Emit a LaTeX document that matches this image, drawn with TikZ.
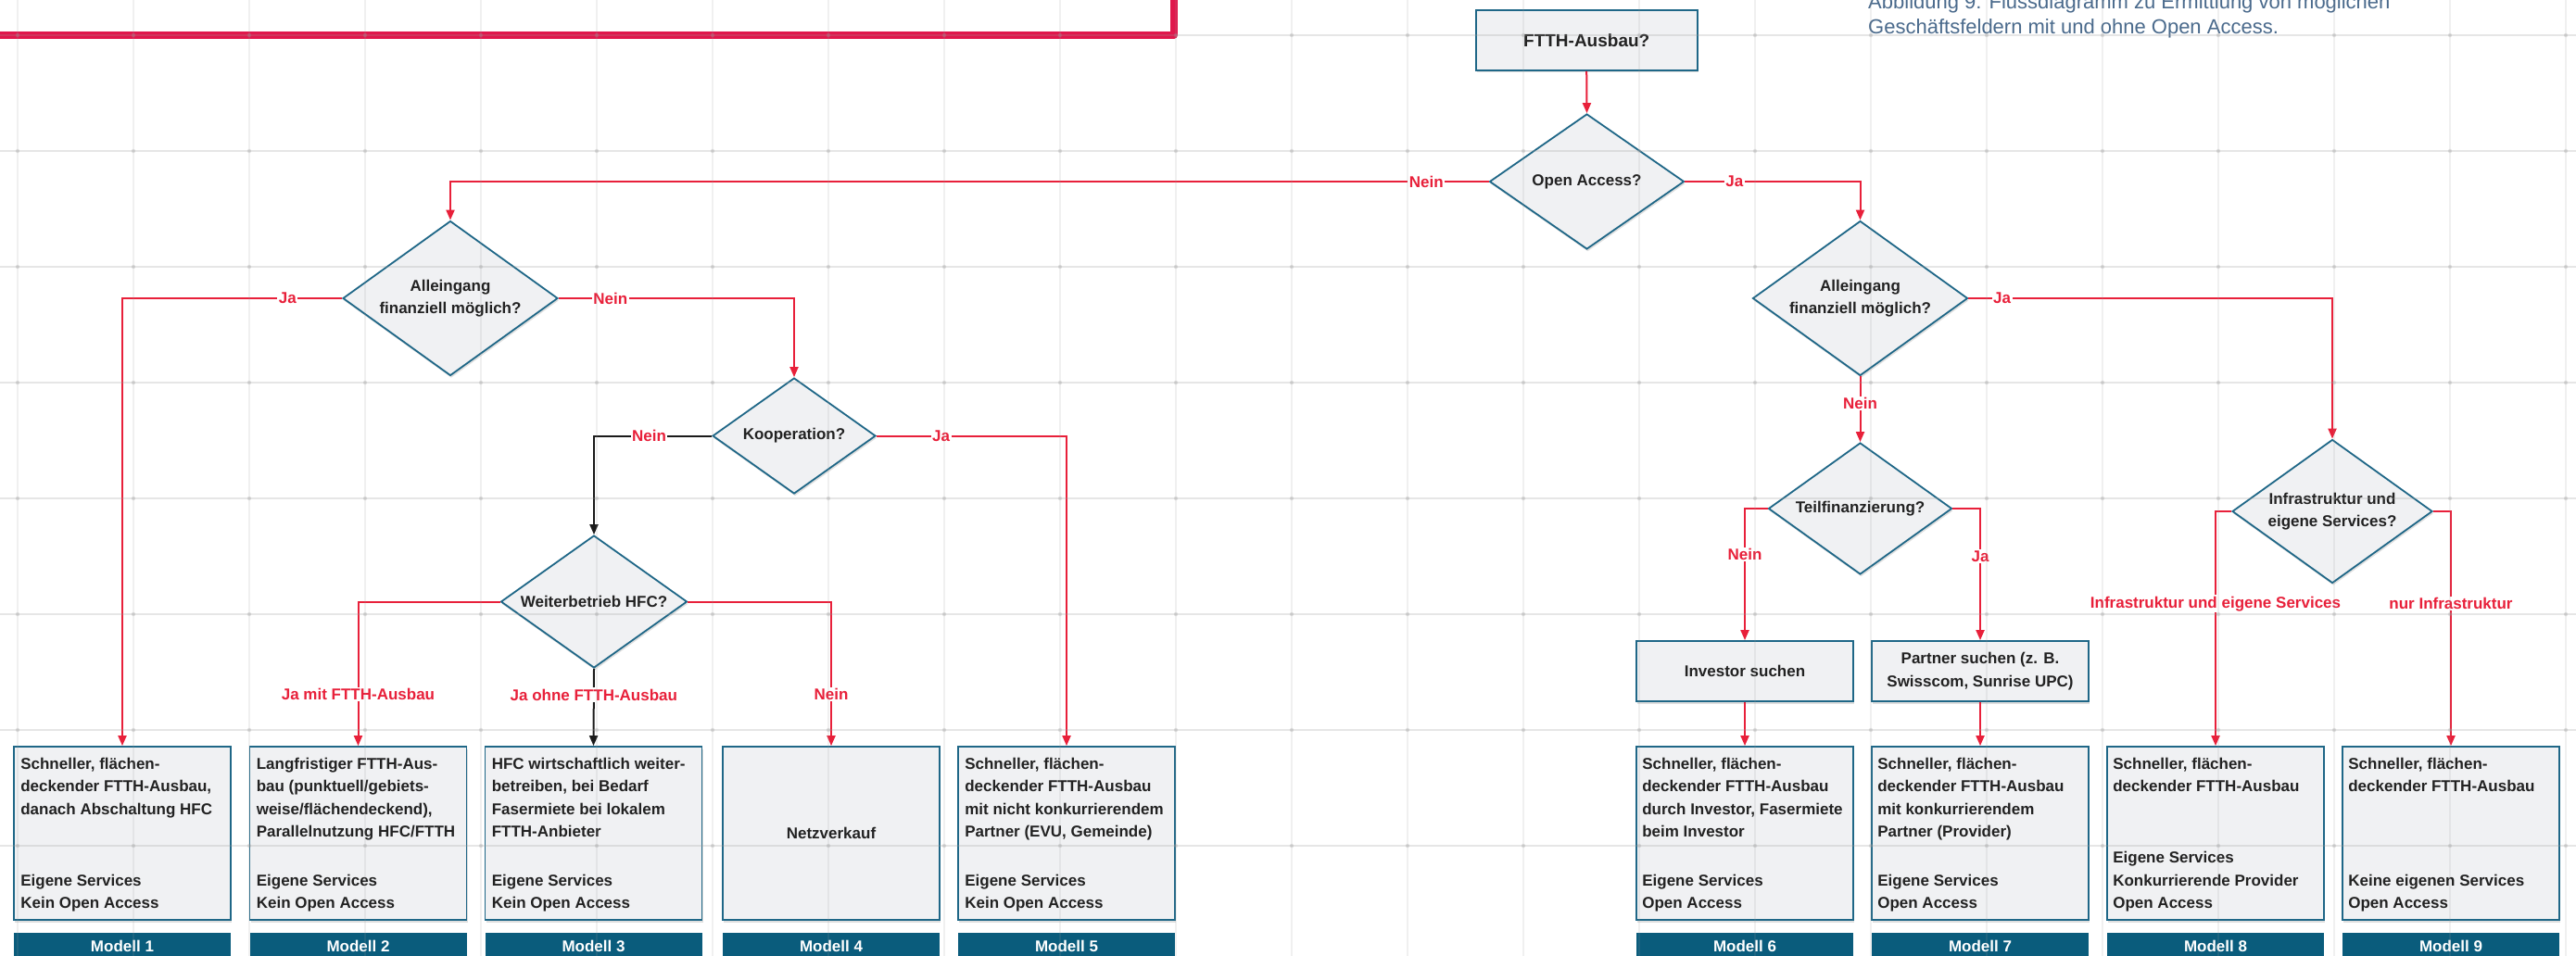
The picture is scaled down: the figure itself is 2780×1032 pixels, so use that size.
\documentclass[tikz,border=0pt]{standalone}
\usepackage{fontspec}
\setmainfont{Liberation Sans}
\usetikzlibrary{shapes.geometric,arrows.meta,shadows}
\definecolor{redl}{HTML}{E8203A}
\definecolor{framec}{HTML}{E0174C}
\definecolor{tealc}{HTML}{1F6787}
\definecolor{boxfill}{HTML}{F0F1F3}
\definecolor{barcol}{HTML}{0A5C7C}
\definecolor{capc}{HTML}{4A6A8C}
\definecolor{txt}{HTML}{222222}
\definecolor{blk}{HTML}{1A1A1A}
\definecolor{gridc}{HTML}{9A9A9A}
\newcommand\topstr{\rule{0pt}{13pt}}
\newcommand\botstr{\rule[-5pt]{0pt}{5pt}}
\tikzset{
  shad/.style={drop shadow={shadow xshift=1pt, shadow yshift=-2.5pt, opacity=0.25}},
  box/.style={rectangle, draw=tealc, fill=boxfill, line width=1.8pt, inner sep=0pt,
    minimum width=234pt, minimum height=187pt, shad, text=txt,
    font=\bfseries\fontsize{17}{24.5}\selectfont},
  smallbox/.style={box, minimum height=65pt, align=center},
  dia/.style={diamond, draw=tealc, fill=boxfill, line width=1.8pt, inner sep=0pt,
    align=center, text=txt, shad, font=\bfseries\fontsize{17}{24.5}\selectfont},
  btxt/.style={inner sep=0pt, align=left, text=txt, font=\bfseries\fontsize{17}{24.5}\selectfont},
  bar/.style={rectangle, fill=barcol, text=white, minimum width=234pt, minimum height=28pt,
    inner sep=0pt, font=\bfseries\fontsize{17}{20}\selectfont},
  lbl/.style={fill=white, text=redl, inner sep=1.5pt, font=\bfseries\fontsize{17}{20}\selectfont},
  conn/.style={draw=redl, line width=2pt, -{Triangle[length=11pt,width=9pt]}},
  connk/.style={draw=blk, line width=2pt, -{Triangle[length=11pt,width=9pt]}},
  captxt/.style={inner sep=0pt, text=capc, font=\fontsize{22}{27}\selectfont},
  gridv/.style={draw=gridc, opacity=0.14, line width=1.3pt},
  gridh/.style={draw=gridc, opacity=0.24, line width=2pt},
  griddot/.style={fill=gridc, opacity=0.28},
}
\begin{document}
\begin{tikzpicture}[x=1pt,y=-1pt]
\useasboundingbox (0,0) rectangle (2780,1032);
\clip (0,0) rectangle (2780,1032);
\fill[white] (0,0) rectangle (2780,1032);

% thick red frame fragment
\draw[framec, line width=8pt, line join=round] (-10,38) -- (1266.5,38) -- (1266.5,-20);

% caption
\node[captxt, anchor=base west] (cap1) at (2016,10) {Abbildung 9: Flussdiagramm zu Ermittlung von möglichen};
\node[captxt, anchor=base west] (cap2) at (2016,37) {Geschäftsfeldern mit und ohne Open Access.};

% decisions
\node[smallbox, minimum width=239pt, font=\bfseries\fontsize{19}{22}\selectfont] (FT) at (1712.2,43.5) {FTTH-Ausbau?};
\node[dia, minimum width=210pt, minimum height=146pt, aspect=1.44] (OA) at (1712.5,196) {Open Access?};
\node[dia, minimum width=232pt, minimum height=167pt, aspect=1.39] (AL) at (486,322) {Alleingang\\finanziell möglich?};
\node[dia, minimum width=232pt, minimum height=167pt, aspect=1.39] (AR) at (2007.5,322) {Alleingang\\finanziell möglich?};
\node[dia, minimum width=176pt, minimum height=125pt, aspect=1.41] (KO) at (857,470.5) {Kooperation?};
\node[dia, minimum width=201pt, minimum height=143pt, aspect=1.41] (WB) at (641,649.5) {Weiterbetrieb HFC?};
\node[dia, minimum width=198pt, minimum height=142pt, aspect=1.39] (TF) at (2007.5,549) {Teilfinanzierung?};
\node[dia, minimum width=216pt, minimum height=155pt, aspect=1.39] (IN) at (2517,552) {Infrastruktur und\\eigene Services?};
\node[smallbox] (IS) at (1883,724.5) {Investor suchen};
\node[smallbox] (PS) at (2137,724.5) {Partner suchen (z. B.\\Swisscom, Sunrise UPC)};

% model boxes
\node[box] (m1) at (132,899.5) {};
\node[box] (m2) at (386.5,899.5) {};
\node[box] (m3) at (640.5,899.5) {};
\node[box] (m4) at (897,899.5) {Netzverkauf};
\node[box] (m5) at (1151,899.5) {};
\node[box] (m6) at (1883,899.5) {};
\node[box] (m7) at (2137,899.5) {};
\node[box] (m8) at (2391,899.5) {};
\node[box] (m9) at (2645,899.5) {};

\node[btxt, anchor=north west] (m1a) at ([xshift=8pt,yshift=-12pt]m1.north west) {\topstr Schneller, flächen-\\deckender FTTH-Ausbau,\\danach Abschaltung HFC};
\node[btxt, anchor=south west] (m1b) at ([xshift=8pt,yshift=8pt]m1.south west) {Eigene Services\\Kein Open Access\botstr};
\node[btxt, anchor=north west] (m2a) at ([xshift=8pt,yshift=-12pt]m2.north west) {\topstr Langfristiger FTTH-Aus-\\bau (punktuell/gebiets-\\weise/flächendeckend),\\Parallelnutzung HFC/FTTH};
\node[btxt, anchor=south west] (m2b) at ([xshift=8pt,yshift=8pt]m2.south west) {Eigene Services\\Kein Open Access\botstr};
\node[btxt, anchor=north west] (m3a) at ([xshift=8pt,yshift=-12pt]m3.north west) {\topstr HFC wirtschaftlich weiter-\\betreiben, bei Bedarf\\Fasermiete bei lokalem\\FTTH-Anbieter};
\node[btxt, anchor=south west] (m3b) at ([xshift=8pt,yshift=8pt]m3.south west) {Eigene Services\\Kein Open Access\botstr};
\node[btxt, anchor=north west] (m5a) at ([xshift=8pt,yshift=-12pt]m5.north west) {\topstr Schneller, flächen-\\deckender FTTH-Ausbau\\mit nicht konkurrierendem\\Partner (EVU, Gemeinde)};
\node[btxt, anchor=south west] (m5b) at ([xshift=8pt,yshift=8pt]m5.south west) {Eigene Services\\Kein Open Access\botstr};
\node[btxt, anchor=north west] (m6a) at ([xshift=7pt,yshift=-12pt]m6.north west) {\topstr Schneller, flächen-\\deckender FTTH-Ausbau\\durch Investor, Fasermiete\\beim Investor};
\node[btxt, anchor=south west] (m6b) at ([xshift=7pt,yshift=8pt]m6.south west) {Eigene Services\\Open Access\botstr};
\node[btxt, anchor=north west] (m7a) at ([xshift=7pt,yshift=-12pt]m7.north west) {\topstr Schneller, flächen-\\deckender FTTH-Ausbau\\mit konkurrierendem\\Partner (Provider)};
\node[btxt, anchor=south west] (m7b) at ([xshift=7pt,yshift=8pt]m7.south west) {Eigene Services\\Open Access\botstr};
\node[btxt, anchor=north west] (m8a) at ([xshift=7pt,yshift=-12pt]m8.north west) {\topstr Schneller, flächen-\\deckender FTTH-Ausbau};
\node[btxt, anchor=south west] (m8b) at ([xshift=7pt,yshift=8pt]m8.south west) {Eigene Services\\Konkurrierende Provider\\Open Access\botstr};
\node[btxt, anchor=north west] (m9a) at ([xshift=7pt,yshift=-12pt]m9.north west) {\topstr Schneller, flächen-\\deckender FTTH-Ausbau};
\node[btxt, anchor=south west] (m9b) at ([xshift=7pt,yshift=8pt]m9.south west) {Keine eigenen Services\\Open Access\botstr};

% model bars
\node[bar] (b1) at (132,1021) {Modell 1};
\node[bar] (b2) at (386.5,1021) {Modell 2};
\node[bar] (b3) at (640.5,1021) {Modell 3};
\node[bar] (b4) at (897,1021) {Modell 4};
\node[bar] (b5) at (1151,1021) {Modell 5};
\node[bar] (b6) at (1883,1021) {Modell 6};
\node[bar] (b7) at (2137,1021) {Modell 7};
\node[bar] (b8) at (2391,1021) {Modell 8};
\node[bar] (b9) at (2645,1021) {Modell 9};

% connectors
\draw[conn] (FT.south) -- (OA.north);
\draw[conn] (OA.west) -| node[lbl, pos=0.030] {Nein} (AL.north);
\draw[conn] (OA.east) -| node[lbl, pos=0.141] {Ja} (AR.north);
\draw[conn] (AL.west) -| node[lbl, pos=0.124] {Ja} (m1.north);
\draw[conn] (AL.east) -| node[lbl, pos=0.11] {Nein} (KO.north);
\draw[connk] (KO.west) -| node[lbl, pos=0.266] {Nein} (WB.north);
\draw[conn] (KO.east) -| node[lbl, pos=0.17] {Ja} (m5.north);
\draw[conn] (WB.west) -| node[lbl, pos=0.821] {Ja mit FTTH-Ausbau} (m2.north);
\draw[connk] (WB.south) -- node[lbl, pos=0.34] {Ja ohne FTTH-Ausbau} (m3.north);
\draw[conn] (WB.east) -| node[lbl, pos=0.821] {Nein} (m4.north);
\draw[conn] (AR.east) -| node[lbl, pos=0.046] {Ja} (IN.north);
\draw[conn] (AR.south) -- node[lbl, pos=0.41] {Nein} (TF.north);
\draw[conn] (TF.west) -| node[lbl, pos=0.675] {Nein} (IS.north);
\draw[conn] (TF.east) -| node[lbl, pos=0.682] {Ja} (PS.north);
\draw[conn] (IS.south) -- (m6.north);
\draw[conn] (PS.south) -- (m7.north);
\draw[conn] (IN.west) -| node[lbl, pos=0.697] {Infrastruktur und eigene Services} (m8.north);
\draw[conn] (IN.east) -| node[lbl, pos=0.697] {nur Infrastruktur} (m9.north);

% grid overlay
\foreach \i in {0,...,22} \draw[gridv] ({19+125*\i},0) -- ({19+125*\i},1032);
\foreach \j in {0,...,7} \draw[gridh] (0,{38+125*\j}) -- (2780,{38+125*\j});
\foreach \i in {0,...,22} \foreach \j in {0,...,7} \fill[griddot] ({19+125*\i},{38+125*\j}) circle (2.2pt);
\end{tikzpicture}
\end{document}
